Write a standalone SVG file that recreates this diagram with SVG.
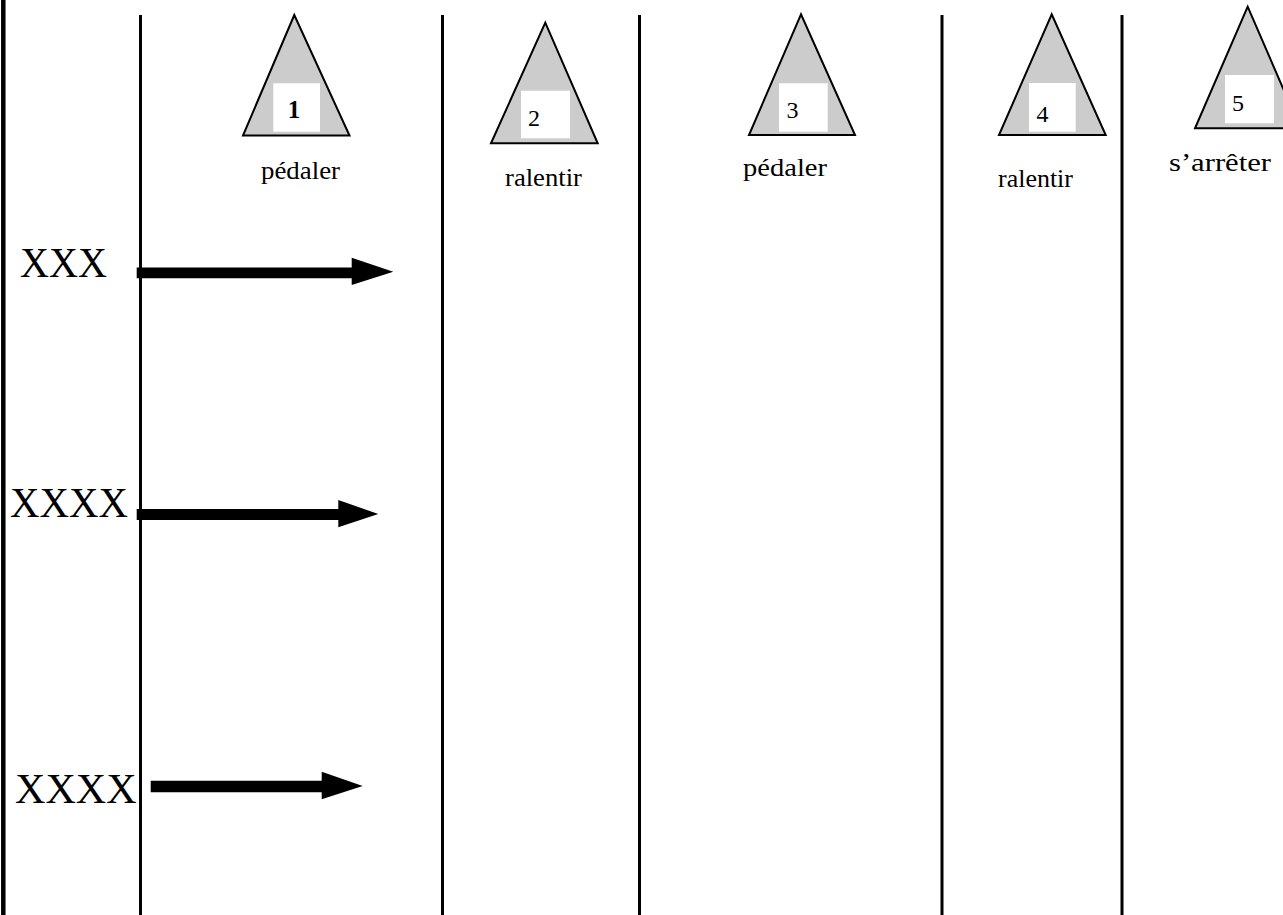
<svg xmlns="http://www.w3.org/2000/svg" width="1283" height="915" viewBox="0 0 1283 915">
  <defs>
    <style>
      .lane { stroke: #000; stroke-width: 3; fill: none; }
      .border { stroke: #000; stroke-width: 4.5; fill: none; }
      .tri { fill: #cccccc; stroke: #000; stroke-width: 2; stroke-linejoin: miter; }
      .box { fill: #fff; stroke: none; }
      .num { font-family: "Liberation Serif", "Times New Roman", serif; font-size: 24px; fill: #000; }
      .num.bold { font-weight: bold; font-size: 25px; }
      .lbl { font-family: "Liberation Serif", "Times New Roman", serif; font-size: 26px; fill: #000; }
      .big { font-family: "Liberation Serif", "Times New Roman", serif; font-size: 42px; fill: #000; }
      .shaft { fill: #000; }
    </style>
  </defs>
  <rect width="1283" height="915" fill="#fff"/>

  <!-- lane separators -->
  <g id="lanes">
    <line class="border" x1="3.3" y1="0" x2="3.3" y2="915"/>
    <line class="lane" x1="140.5" y1="15" x2="140.5" y2="915"/>
    <line class="lane" x1="442.5" y1="15" x2="442.5" y2="915"/>
    <line class="lane" x1="639.5" y1="15" x2="639.5" y2="915"/>
    <line class="lane" x1="942" y1="15" x2="942" y2="915"/>
    <line class="lane" x1="1122" y1="15" x2="1122" y2="915"/>
  </g>

  <!-- step nodes -->
  <g id="step1">
    <polygon class="tri" points="294.3,15 243,135.5 349.5,135.5"/>
    <rect class="box" x="273.3" y="83.3" width="46.7" height="48.4"/>
    <text class="num bold" x="294" y="118" text-anchor="middle">1</text>
    <text class="lbl" x="261" y="179" textLength="79" lengthAdjust="spacingAndGlyphs">pédaler</text>
  </g>
  <g id="step2">
    <polygon class="tri" points="545.3,22.7 491,143.3 597.7,143.3"/>
    <rect class="box" x="521" y="90.7" width="49" height="47.6"/>
    <text class="num" x="528" y="126">2</text>
    <text class="lbl" x="505" y="186" textLength="77" lengthAdjust="spacingAndGlyphs">ralentir</text>
  </g>
  <g id="step3">
    <polygon class="tri" points="801,14.3 749,135 855,135"/>
    <rect class="box" x="779" y="83.3" width="48.7" height="48.4"/>
    <text class="num" x="786.5" y="118">3</text>
    <text class="lbl" x="743" y="176" textLength="84" lengthAdjust="spacingAndGlyphs">pédaler</text>
  </g>
  <g id="step4">
    <polygon class="tri" points="1051.7,14.3 999,135 1105.7,135"/>
    <rect class="box" x="1029" y="83" width="46.7" height="48.7"/>
    <text class="num" x="1036.5" y="122">4</text>
    <text class="lbl" x="998" y="187" textLength="75" lengthAdjust="spacingAndGlyphs">ralentir</text>
  </g>
  <g id="step5">
    <polygon class="tri" points="1247.7,6.7 1195,128.3 1300.4,128.3"/>
    <rect class="box" x="1225" y="75" width="49" height="48.3"/>
    <text class="num" x="1232" y="111">5</text>
    <text class="lbl" x="1169" y="171" textLength="102" lengthAdjust="spacingAndGlyphs">s’arrêter</text>
  </g>

  <!-- row labels -->
  <g id="row1"><text class="big" x="20" y="277" textLength="87" lengthAdjust="spacingAndGlyphs">XXX</text></g>
  <g id="row2"><text class="big" x="10" y="517" textLength="118" lengthAdjust="spacingAndGlyphs">XXXX</text></g>
  <g id="row3"><text class="big" x="15" y="803" textLength="121.7" lengthAdjust="spacingAndGlyphs">XXXX</text></g>

  <!-- connectors -->
  <g id="connectors">
    <polygon class="shaft" points="136.7,267.5 351.7,267.5 351.7,257.7 393.3,271.7 351.7,285 351.7,278.3 136.7,278.3"/>
    <polygon class="shaft" points="136.7,509 338.3,509 338.3,500 378.3,514 338.3,527.3 338.3,520 136.7,520"/>
    <polygon class="shaft" points="150.7,780.7 321.7,780.7 321.7,771.7 362.7,786 321.7,799.3 321.7,792.3 150.7,792.3"/>
  </g>
</svg>
